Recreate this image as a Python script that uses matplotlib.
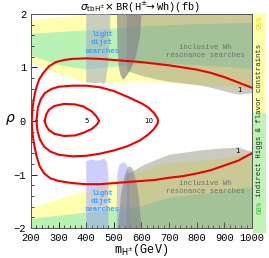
import numpy as np
import matplotlib
matplotlib.use("Agg")
import matplotlib.pyplot as plt
from matplotlib.ticker import MultipleLocator

# ---------------- contour lines of sigma x BR (fb) ----------------
c1_m = [1000, 950, 900, 850, 800, 750, 700, 650, 600, 550, 500, 450, 400, 350, 320, 290,
        265, 245, 230, 218, 210, 205, 203, 205, 210, 220, 232, 248, 270, 300, 350, 400,
        450, 500, 550, 600, 650, 700, 750, 800, 850, 900, 950, 1000]
c1_rho = [0.62, 0.72, 0.82, 0.90, 0.96, 1.00, 1.04, 1.07, 1.10, 1.12, 1.14, 1.16, 1.17, 1.16,
          1.14, 1.10, 1.02, 0.90, 0.78, 0.60, 0.40, 0.20, 0.00, -0.20, -0.40, -0.65, -0.85,
          -0.98, -1.07, -1.12, -1.16, -1.18, -1.18, -1.16, -1.14, -1.12, -1.10, -1.06, -1.03,
          -0.98, -0.92, -0.83, -0.74, -0.60]

c10_m = [220, 225, 235, 250, 275, 300, 350, 400, 450, 500, 550, 600, 625, 645, 658, 660,
         658, 645, 625, 595, 550, 500, 450, 400, 350, 300, 270, 248, 233, 224, 220]
c10_rho = [0.00, 0.25, 0.40, 0.52, 0.60, 0.64, 0.66, 0.66, 0.63, 0.56, 0.45, 0.33, 0.25, 0.15,
           0.05, 0.00, -0.05, -0.15, -0.25, -0.36, -0.47, -0.55, -0.61, -0.65, -0.66, -0.63,
           -0.57, -0.48, -0.35, -0.20, 0.00]

c5_m = [250, 255, 265, 285, 320, 360, 390, 420, 438, 447, 438, 420, 390, 360, 320, 285,
        265, 255, 250]
c5_rho = [0.00, 0.12, 0.21, 0.28, 0.32, 0.31, 0.27, 0.18, 0.08, 0.00, -0.07, -0.15, -0.22,
          -0.27, -0.28, -0.24, -0.17, -0.09, 0.00]

# ---------------- indirect constraint bands ----------------
yel_top_m = [200, 300, 400, 500, 600, 700, 800, 900, 1000]
yel_top_hi = [1.88, 1.95, 1.98, 2.0, 2.0, 2.0, 2.0, 2.0, 2.0]
yel_top_lo = [1.10, 0.88, 0.72, 0.72, 0.74, 0.72, 0.68, 0.65, 0.62]
grn_top_hi = [1.64, 1.67, 1.70, 1.74, 1.78, 1.80, 1.82, 1.83, 1.84]
grn_top_lo = [1.23, 1.05, 0.97, 1.02, 1.08, 1.08, 1.05, 1.02, 0.98]

yel_bot_m = [200, 300, 400, 500, 560, 600, 700, 800, 900, 1000]
yel_bot_hi = [-1.62, -1.45, -1.30, -1.12, -0.97, -0.92, -0.78, -0.74, -0.68, -0.60]
grn_bot_hi = [-1.82, -1.76, -1.70, -1.65, -1.61, -1.58, -1.42, -1.36, -1.30, -1.22]

# ---------------- direct searches ----------------
wh_top_m = [545, 560, 600, 650, 700, 800, 850, 900, 950, 1000]
wh_top_lo = [0.95, 0.92, 0.85, 0.79, 0.74, 0.68, 0.63, 0.56, 0.50, 0.53]
wh_bot_m = [545, 600, 650, 700, 800, 850, 900, 950, 1000]
wh_bot_hi = [-1.00, -0.83, -0.72, -0.62, -0.55, -0.52, -0.50, -0.49, -0.57]

dijet_top_m = [400, 400, 430, 455, 462, 470, 478, 485, 488]
dijet_top_rho = [2.0, 0.72, 0.71, 0.72, 0.68, 0.73, 1.0, 1.6, 2.0]
dijet_bot_m = [400, 400, 420, 440, 455, 465, 475, 480, 480]
dijet_bot_rho = [-2.0, -0.75, -0.72, -0.74, -0.72, -0.70, -0.76, -1.0, -2.0]
hump_bot_m = [510, 512, 520, 535, 548, 556, 560]
hump_bot_rho = [-2.0, -1.0, -0.82, -0.77, -0.82, -1.0, -2.0]

tri_top_m = [511, 513, 518, 525, 533, 540, 560, 580, 595, 600]
tri_top_rho = [2.0, 1.4, 1.0, 0.85, 0.77, 0.80, 0.95, 1.2, 1.6, 2.0]
tri_bot_m = [515, 525, 540, 552, 560, 568, 580, 590, 600]
tri_bot_rho = [-2.0, -1.4, -1.0, -0.86, -0.85, -0.90, -1.1, -1.4, -2.0]

mono = "Liberation Mono"
YELLOW = "#ffffb0"
GREEN = "#b8f2b4"


def main():
    fig = plt.figure(figsize=(2.69, 2.58), dpi=100)
    ax = fig.add_axes([0.115, 0.116, 0.822, 0.830])

    # indirect bands
    ax.fill_between(yel_top_m, yel_top_lo, yel_top_hi, color=YELLOW, lw=0, zorder=1)
    ax.fill_between(yel_top_m, grn_top_lo, grn_top_hi, color=GREEN, lw=0, zorder=1)
    ax.fill_between(yel_bot_m, -2, yel_bot_hi, color=YELLOW, lw=0, zorder=1)
    ax.fill_between(yel_bot_m, -2, grn_bot_hi, color=GREEN, lw=0, zorder=1)

    # inclusive Wh resonance searches
    ax.fill_between(wh_top_m, wh_top_lo, 2, color="#8a8878", alpha=0.45, lw=0, zorder=2)
    ax.fill_between(wh_bot_m, -2, wh_bot_hi, color="#8a8878", alpha=0.45, lw=0, zorder=2)

    # light dijet searches
    ax.fill(dijet_top_m, dijet_top_rho, color="#a8b0c4", alpha=0.6, lw=0, zorder=3)
    ax.fill(dijet_bot_m, dijet_bot_rho, color="#9090ff", alpha=0.45, lw=0, zorder=3)
    ax.fill(hump_bot_m, hump_bot_rho, color="#9090ff", alpha=0.45, lw=0, zorder=3)
    ax.fill(tri_top_m, tri_top_rho, color="#808088", alpha=0.65, lw=0, zorder=3)
    ax.fill(tri_bot_m, tri_bot_rho, color="#808088", alpha=0.55, lw=0, zorder=3)

    # contours
    for m, r in [(c1_m, c1_rho), (c10_m, c10_rho), (c5_m, c5_rho)]:
        ax.plot(m, r, color="#ee0000", lw=1.5, zorder=5, solid_joinstyle="round")
    ax.text(403, 0, "5", fontsize=5, ha="center", va="center", zorder=6)
    ax.text(627, 0, "10", fontsize=5, ha="center", va="center", zorder=6)
    ax.text(953, 0.58, "1", fontsize=5, ha="center", va="center", zorder=6)
    ax.text(946, -0.56, "1", fontsize=5, ha="center", va="center", zorder=6)

    # labels on regions
    for y in (1.46, -1.5):
        ax.text(456, y, "light\ndijet\nsearches", family=mono, fontsize=5.3,
                color="#3fa2ff", weight="bold", ha="center", va="center",
                linespacing=1.25, zorder=6)
    for y in (1.3, -1.24):
        ax.text(830, y, "inclusive Wh\nresonance searches", family=mono, fontsize=5.3,
                color="#707070", ha="center", va="center", linespacing=1.2, zorder=6)

    ax.set_xlim(200, 1000)
    ax.set_ylim(-2, 2)
    ax.xaxis.set_major_locator(MultipleLocator(100))
    ax.xaxis.set_minor_locator(MultipleLocator(20))
    ax.yaxis.set_major_locator(MultipleLocator(1))
    ax.yaxis.set_minor_locator(MultipleLocator(0.2))
    ax.tick_params(which="both", direction="in", top=False, right=False)
    ax.tick_params(which="major", length=4, width=0.6, labelsize=7.5)
    ax.tick_params(axis="x", which="major", pad=3.5)
    ax.tick_params(axis="y", which="major", pad=3.5)
    ax.tick_params(which="minor", length=2, width=0.5)
    for lab in ax.get_xticklabels() + ax.get_yticklabels():
        lab.set_family(mono)
    for s in ax.spines.values():
        s.set_linewidth(0.7)
        s.set_color("#555555")

    # axis labels and title placed in figure coordinates so nothing is clipped
    fig.text(0.525, 0.03, r"m$_{\mathrm{H}^{\pm}}$(GeV)", family=mono, fontsize=8.5,
             ha="center", va="center")
    fig.text(0.04, 0.535, r"$\rho$", fontsize=10, ha="center", va="center")
    fig.text(0.52, 0.972,
             r"$\sigma_{\mathrm{tbH}^{\pm}}\!\times$BR(H$^{\pm}\!\!\rightarrow$Wh)(fb)",
             family=mono, fontsize=7.5, ha="center", va="center")

    # side strip: indirect Higgs & flavor constraints
    cax = fig.add_axes([0.941, 0.097, 0.048, 0.853])
    cax.axvspan(0, 1, 0.545, 1, color="#ffffaa", lw=0)
    cax.axvspan(0, 1, 0, 0.545, color="#bff2b4", lw=0)
    cax.set_xlim(0, 1)
    cax.set_ylim(0, 1)
    cax.axis("off")
    cax.text(0.5, 0.51, "indirect Higgs & flavor constraints", family=mono, fontsize=5.2,
             rotation=90, ha="center", va="center", color="#222222")
    cax.text(0.5, 0.955, "95%", family=mono, fontsize=5.2, rotation=90,
             ha="center", va="center", color="#f0c820")
    cax.text(0.5, 0.115, "68%", family=mono, fontsize=5.2, rotation=90,
             ha="center", va="center", color="#30c030")

    fig.savefig("out.png", dpi=100)


if __name__ == "__main__":
    main()
